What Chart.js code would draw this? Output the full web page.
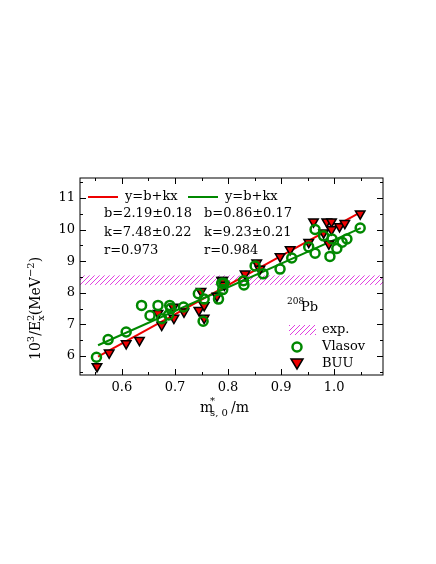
<!DOCTYPE html><html><head><script src="https://cdn.jsdelivr.net/npm/chart.js@4"></script>
<style>body{margin:0;background:#fff}#w{width:436px;height:564px}</style></head><body><div id="w"><canvas id="c"></canvas></div>
<script>
const vlasovX=[0.552,0.574,0.608,0.637,0.653,0.668,0.675,0.690,0.692,0.688,0.716,0.744,0.753,0.755,0.782,0.788,0.790,0.792,0.829,0.830,0.851,0.866,0.898,0.920,0.952,0.964,0.964,0.980,0.992,0.996,1.005,1.015,1.024,1.049];
const vlasovY=[5.96,6.52,6.76,7.6,7.28,7.6,7.18,7.6,7.5,7.3,7.55,7.97,7.1,7.8,7.8,8.3,8.1,8.3,8.38,8.25,8.85,8.6,8.75,9.1,9.45,9.25,10.0,9.8,9.15,9.7,9.4,9.6,9.7,10.05];
const buuX=[0.553,0.576,0.608,0.633,0.675,0.668,0.697,0.698,0.717,0.745,0.749,0.755,0.755,0.779,0.788,0.790,0.793,0.832,0.854,0.860,0.898,0.917,0.952,0.961,0.986,0.995,0.980,0.995,0.990,1.010,1.020,1.049];
const buuY=[5.67,6.1,6.4,6.5,6.98,7.35,7.55,7.2,7.4,7.45,8.05,7.2,7.6,7.9,8.4,8.4,8.25,8.6,8.95,8.75,9.15,9.37,9.6,10.25,10.25,10.25,9.9,10.0,9.55,10.1,10.2,10.5];
const fitB={vlasov:2.19,buu:0.86}, fitK={vlasov:7.48,buu:9.23};
const fitRange=[0.555,1.05];
const expBand=[8.25,8.55];
const xTicks=[0.6,0.7,0.8,0.9,1.0], yTicks=[6,7,8,9,10,11];
const F='"DejaVu Serif", serif';
const line=(k)=>fitRange.map(x=>({x,y:fitB[k]+fitK[k]*x}));
const hatch=(()=>{const c=document.createElement('canvas');c.width=c.height=5;const g=c.getContext('2d');g.strokeStyle='#e040e0';g.lineWidth=1;g.beginPath();g.moveTo(0,5);g.lineTo(5,0);g.moveTo(-1,1);g.lineTo(1,-1);g.moveTo(4,6);g.lineTo(6,4);g.stroke();return c;})();
const deco={id:'deco',
beforeDatasetsDraw(ch){const {ctx}=ch,x=ch.scales.x,y=ch.scales.y,a=ch.chartArea;ctx.save();
 ctx.fillStyle=ctx.createPattern(hatch,'repeat');const y1=y.getPixelForValue(expBand[1]),y0=y.getPixelForValue(expBand[0]);ctx.fillRect(a.left,y1,a.right-a.left,y0-y1);ctx.restore();},
afterDraw(ch){const {ctx}=ch,x=ch.scales.x,y=ch.scales.y,a=ch.chartArea;ctx.save();
 ctx.strokeStyle='#000';ctx.lineWidth=1;ctx.strokeRect(a.left,a.top,a.right-a.left,a.bottom-a.top);
 ctx.beginPath();
 for(let v=0.55;v<1.09;v+=0.05){const p=Math.round(x.getPixelForValue(v))+0.5;const L=(Math.abs(v*10-Math.round(v*10))<0.01)?6:3;ctx.moveTo(p,a.bottom);ctx.lineTo(p,a.bottom-L);ctx.moveTo(p,a.top);ctx.lineTo(p,a.top+L);}
 for(let v=5.5;v<11.6;v+=0.5){const p=Math.round(y.getPixelForValue(v))+0.5;const L=(Math.abs(v-Math.round(v))<0.01)?6:3;ctx.moveTo(a.left,p);ctx.lineTo(a.left+L,p);ctx.moveTo(a.right,p);ctx.lineTo(a.right-L,p);}
 ctx.stroke();
 ctx.fillStyle='#000';ctx.font='13px '+F;ctx.textAlign='center';ctx.textBaseline='top';
 xTicks.forEach(v=>ctx.fillText(v.toFixed(1),x.getPixelForValue(v),a.bottom+6));
 ctx.textAlign='right';ctx.textBaseline='middle';
 yTicks.forEach(v=>ctx.fillText(String(v),a.left-5,y.getPixelForValue(v)));
 // x title
 ctx.textAlign='left';ctx.textBaseline='alphabetic';ctx.font='14px '+F;
 ctx.fillText('m',200,412);ctx.font='10px '+F;ctx.fillText('*',210,404);ctx.fillText('s, 0',210,416);ctx.font='14px '+F;ctx.fillText('/m',231,412);
 // y title
 ctx.save();ctx.translate(40,290);ctx.rotate(-Math.PI/2);ctx.font='14px '+F;
 let t=-70;const put=(s,f,dy)=>{ctx.font=f+'px '+F;ctx.fillText(s,t,dy);t+=ctx.measureText(s).width;};
 put('10','14',0);put('3','10',-6);put('/E','14',0);const tx=t;put('2','10',-6);t=tx;put('x','10',4);put('(MeV','14',0);put('−2','10',-6);put(')','14',0);
 ctx.restore();
 // legend top
 ctx.lineWidth=2;ctx.strokeStyle='#e00';ctx.beginPath();ctx.moveTo(88,197);ctx.lineTo(118,197);ctx.stroke();
 ctx.strokeStyle='#080';ctx.beginPath();ctx.moveTo(188,197);ctx.lineTo(218,197);ctx.stroke();
 ctx.font='13px '+F;ctx.textBaseline='middle';
 ctx.fillText('y=b+kx',125,197);ctx.fillText('y=b+kx',225,197);
 ctx.fillText('b=2.19±0.18',104,214);ctx.fillText('k=7.48±0.22',104,233);ctx.fillText('r=0.973',104,251);
 ctx.fillText('b=0.86±0.17',204,214);ctx.fillText('k=9.23±0.21',204,233);ctx.fillText('r=0.984',204,251);
 // Pb
 ctx.font='9px '+F;ctx.fillText('208',287,302);ctx.font='13px '+F;ctx.fillText('Pb',301,308);
 // lower legend
 ctx.fillStyle=ctx.createPattern(hatch,'repeat');ctx.fillRect(289,325,27,10);
 ctx.fillStyle='#000';ctx.fillText('exp.',322,330);ctx.fillText('Vlasov',322,347);ctx.fillText('BUU',322,364);
 ctx.strokeStyle='#080';ctx.lineWidth=2.5;ctx.beginPath();ctx.arc(297,347,4.5,0,7);ctx.stroke();
 ctx.fillStyle='#e00';ctx.strokeStyle='#000';ctx.lineWidth=1.5;ctx.beginPath();ctx.moveTo(291,359);ctx.lineTo(303,359);ctx.lineTo(297,369);ctx.closePath();ctx.fill();ctx.stroke();
 ctx.restore();}};
new Chart(document.getElementById('c'),{type:'scatter',
data:{datasets:[
 {data:vlasovX.map((x,i)=>({x,y:vlasovY[i]})),pointStyle:'circle',radius:4.5,borderColor:'#080',borderWidth:2.5,backgroundColor:'rgba(0,0,0,0)'},
 {data:buuX.map((x,i)=>({x,y:buuY[i]})),pointStyle:'triangle',rotation:180,radius:5.5,borderColor:'#000',borderWidth:1.5,backgroundColor:'#e00'},
 {type:'line',data:line('vlasov'),borderColor:'#080',borderWidth:2,pointRadius:0},
 {type:'line',data:line('buu'),borderColor:'#e00',borderWidth:2,pointRadius:0}]},
options:{responsive:true,maintainAspectRatio:false,animation:false,
 layout:{padding:{left:80,right:53,top:178,bottom:189}},
 plugins:{legend:{display:false},tooltip:{enabled:false}},
 scales:{x:{type:'linear',min:0.521,max:1.092,display:false},y:{min:5.4,max:11.63,display:false}}},
plugins:[deco]});
</script></body></html>
